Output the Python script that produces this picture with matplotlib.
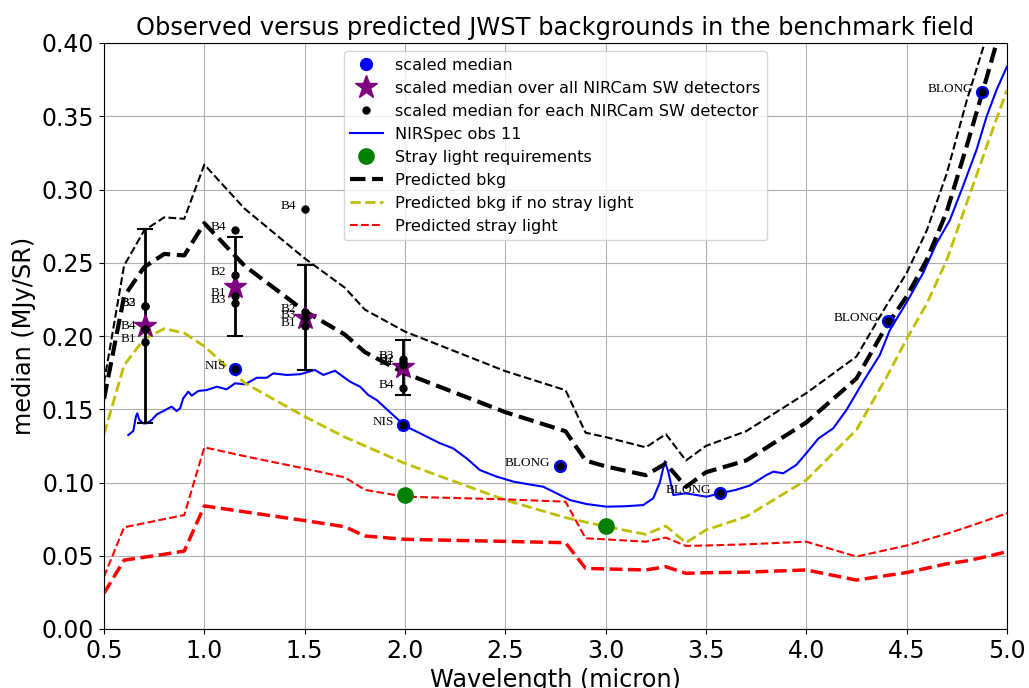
import matplotlib
matplotlib.use("Agg")
import matplotlib.pyplot as plt

# ---- model grid (micron) ----
wl_model = [0.5, 0.6, 0.7, 0.8, 0.9, 1.0, 1.2, 1.5, 1.7, 1.8, 2.0, 2.5, 2.8, 2.9, 3.0,
            3.2, 3.3, 3.4, 3.5, 3.7, 4.0, 4.25, 4.4, 4.5, 4.6, 4.7, 4.8, 4.9, 5.0]
bkg_pred = [0.157, 0.227, 0.247, 0.256, 0.255, 0.277, 0.248, 0.217, 0.201, 0.189, 0.1745,
            0.148, 0.135, 0.115, 0.111, 0.105, 0.113, 0.097, 0.107, 0.115, 0.141, 0.171,
            0.207, 0.227, 0.252, 0.285, 0.330, 0.377, 0.425]
bkg_pred_high = [0.168, 0.248, 0.272, 0.281, 0.280, 0.317, 0.287, 0.253, 0.233, 0.218, 0.203,
                 0.176, 0.163, 0.134, 0.131, 0.124, 0.133, 0.115, 0.125, 0.135, 0.161, 0.186,
                 0.221, 0.243, 0.272, 0.311, 0.361, 0.405, 0.450]
bkg_nostray = [0.133, 0.180, 0.198, 0.205, 0.202, 0.193, 0.168, 0.145, 0.131, 0.125, 0.113,
               0.088, 0.076, 0.073, 0.070, 0.0646, 0.0703, 0.0589, 0.0676, 0.0767, 0.1017,
               0.136, 0.172, 0.198, 0.222, 0.252, 0.291, 0.330, 0.368]
stray_high = [0.0357, 0.0694, 0.0722, 0.0750, 0.0778, 0.124, 0.118, 0.1095, 0.1035, 0.095,
              0.0903, 0.0885, 0.0869, 0.0619, 0.0612, 0.0596, 0.0624, 0.0567, 0.0570, 0.0578,
              0.0596, 0.0494, 0.0540, 0.0570, 0.0610, 0.0650, 0.0695, 0.0742, 0.0790]
stray_low = [0.0244, 0.047, 0.049, 0.051, 0.0532, 0.084, 0.080, 0.074, 0.0698, 0.0635,
             0.0612, 0.0598, 0.0589, 0.0414, 0.0410, 0.0403, 0.0425, 0.0380, 0.0384, 0.0388,
             0.0403, 0.0334, 0.0365, 0.0385, 0.0415, 0.0445, 0.0465, 0.0495, 0.0528]

# ---- NIRSpec obs 11 spectrum ----
nirspec_wl = [0.621, 0.646, 0.659, 0.666, 0.676, 0.696, 0.713, 0.738, 0.763, 0.796, 0.837,
              0.862, 0.879, 0.895, 0.920, 0.937, 0.970, 1.012, 1.062, 1.111, 1.153, 1.203,
              1.261, 1.311, 1.344, 1.410, 1.477, 1.551, 1.593, 1.651, 1.726, 1.776, 1.817,
              1.859, 1.941, 2.000, 2.075, 2.174, 2.240, 2.307, 2.373, 2.457, 2.540, 2.606,
              2.689, 2.756, 2.822, 2.905, 3.005, 3.100, 3.187, 3.237, 3.270, 3.295, 3.312,
              3.337, 3.400, 3.503, 3.569, 3.650, 3.719, 3.800, 3.835, 3.885, 3.950, 4.000,
              4.060, 4.134, 4.200, 4.283, 4.366, 4.416, 4.500, 4.582, 4.648, 4.715, 4.780,
              4.848, 4.898, 4.948, 5.000]
nirspec_val = [0.1324, 0.1352, 0.1449, 0.1472, 0.1427, 0.1404, 0.1404, 0.1427, 0.1465, 0.1488,
               0.1518, 0.1488, 0.1506, 0.1575, 0.1620, 0.1593, 0.1625, 0.1631, 0.1654, 0.1636,
               0.1677, 0.1670, 0.1715, 0.1715, 0.1745, 0.1734, 0.1739, 0.1768, 0.1734, 0.1763,
               0.1688, 0.1654, 0.1597, 0.1563, 0.1460, 0.1386, 0.1336, 0.1268, 0.1233, 0.1165,
               0.1085, 0.1040, 0.1006, 0.0990, 0.0971, 0.0926, 0.0880, 0.0853, 0.0835, 0.0838,
               0.0846, 0.0892, 0.1000, 0.1145, 0.1074, 0.0915, 0.0926, 0.0903, 0.0926, 0.0950,
               0.0980, 0.1050, 0.1074, 0.1063, 0.1120, 0.1200, 0.1300, 0.1370, 0.1495, 0.1688,
               0.1870, 0.2040, 0.2230, 0.2430, 0.2630, 0.2790, 0.3020, 0.3270, 0.3497, 0.3680,
               0.3840]

# ---- scaled medians (NIRISS / NIRCam LW) ----
med_wl = [1.154, 1.989, 2.770, 3.568, 4.408, 4.874]
med_val = [0.1773, 0.1393, 0.1113, 0.0930, 0.2105, 0.3668]
med_lab = ["NIS", "NIS", "BLONG", "BLONG", "BLONG", "BLONG"]

# ---- NIRCam SW: median over all detectors ----
sw_wl = [0.704, 1.154, 1.501, 1.989]
sw_val = [0.2068, 0.2337, 0.2125, 0.1786]
sw_err = [0.0665, 0.034, 0.036, 0.019]

# ---- NIRCam SW: per detector ----
det_names = ["B1", "B2", "B3", "B4"]
det_vals = [
    [0.1960, 0.2203, 0.2207, 0.2048],
    [0.2276, 0.2414, 0.2223, 0.2724],
    [0.2068, 0.2166, 0.2125, 0.2867],
    [0.1800, 0.1825, 0.1840, 0.1643],
]

# ---- stray light requirements ----
req_wl = [2.0, 3.0]
req_val = [0.0915, 0.0703]

fig = plt.figure(figsize=(10.29, 6.88), dpi=100)
ax = fig.add_axes([104 / 1029, 1 - 629 / 688, 903 / 1029, 586 / 688])

serif = dict(family="Liberation Serif", fontsize=9.5, ha="right", va="baseline")

ax.plot(med_wl, med_val, "o", color="blue", ms=8.5, ls="none", label="scaled median", zorder=3)
ax.errorbar(sw_wl, sw_val, yerr=sw_err, fmt="none", ecolor="black", elinewidth=2,
            capsize=6, capthick=1.5, zorder=3)
ax.plot(sw_wl, sw_val, "*", color="purple", ms=17, ls="none",
        label="scaled median over all NIRCam SW detectors", zorder=4)
first = True
for w, vals in zip(sw_wl, det_vals):
    for name, v in zip(det_names, vals):
        ax.plot([w], [v], "o", color="black", ms=5, ls="none", zorder=5,
                label="scaled median for each NIRCam SW detector" if first else None)
        first = False
        ax.text(w - 0.045, v, name, zorder=6, **serif)
ax.plot(med_wl, med_val, "o", color="black", ms=5, ls="none", zorder=5)
for w, v, s in zip(med_wl, med_val, med_lab):
    ax.text(w - 0.045, v, s, zorder=6, **serif)

ax.plot(nirspec_wl, nirspec_val, "-", color="blue", lw=1.5, label="NIRSpec obs 11", zorder=2)
ax.plot(req_wl, req_val, "o", color="green", ms=11, ls="none",
        label="Stray light requirements", zorder=3)
ax.plot(wl_model, bkg_pred, "--", color="black", lw=3, label="Predicted bkg", zorder=2)
ax.plot(wl_model, bkg_pred_high, "--", color="black", lw=1.5, zorder=2)
ax.plot(wl_model, bkg_nostray, "--", color="y", lw=2,
        label="Predicted bkg if no stray light", zorder=2)
ax.plot(wl_model, stray_high, "--", color="red", lw=1.5, label="Predicted stray light", zorder=2)
ax.plot(wl_model, stray_low, "--", color="red", lw=2.5, zorder=2)

ax.set_xlim(0.5, 5.0)
ax.set_ylim(0.0, 0.4)
ax.set_xticks([0.5, 1.0, 1.5, 2.0, 2.5, 3.0, 3.5, 4.0, 4.5, 5.0])
ax.set_yticks([0.0, 0.05, 0.10, 0.15, 0.20, 0.25, 0.30, 0.35, 0.40])
ax.set_yticklabels(["0.00", "0.05", "0.10", "0.15", "0.20", "0.25", "0.30", "0.35", "0.40"])
ax.tick_params(labelsize=17)
ax.grid(True)
ax.set_xlabel("Wavelength (micron)", fontsize=17.3)
ax.set_ylabel("median (MJy/SR)", fontsize=17.3)
ax.set_title("Observed versus predicted JWST backgrounds in the benchmark field", fontsize=17.4)
ax.legend(loc="upper center", fontsize=11.6)

fig.savefig("out.png", dpi=100)
